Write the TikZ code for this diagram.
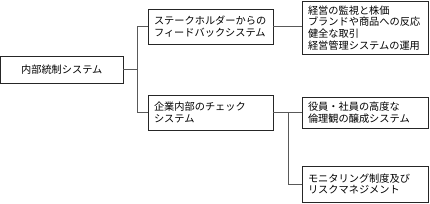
\documentclass[tikz,border=0pt]{standalone}
\usepackage{fontspec}
\setmainfont{Noto Sans CJK JP}
\begin{document}
\begin{tikzpicture}[x=1pt,y=-1pt,
  box/.style={draw=black!85, line width=0.9pt, rectangle, inner xsep=6pt, inner ysep=0pt,
    font=\fontsize{10.2}{11.7}\selectfont, align=left, anchor=center},
  conn/.style={draw=black!65, line width=0.9pt}]
\useasboundingbox (0,0) rectangle (430,203);
\node[box, minimum width=122.5pt, minimum height=27pt, align=center] (A) at (61.75,69.5) {内部統制システム};
\node[box, minimum width=125pt, minimum height=35pt, text width=113pt] (B) at (210.5,26.7) {ステークホルダーからの\\フィードバックシステム};
\node[box, minimum width=125pt, minimum height=35pt, text width=113pt] (C) at (210.5,112.5) {企業内部のチェック\\システム};
\node[box, minimum width=126pt, minimum height=53pt, text width=114pt] (D) at (365,27.7) {経営の監視と株価\\ブランドや商品への反応\\健全な取引\\経営管理システムの運用};
\node[box, minimum width=126pt, minimum height=31pt, text width=114pt] (E) at (365,112.5) {役員・社員の高度な\\倫理観の醸成システム};
\node[box, minimum width=126pt, minimum height=36pt, text width=114pt] (F) at (365,184) {モニタリング制度及び\\リスクマネジメント};
\coordinate (j1) at (137,69.5);
\coordinate (j2) at (288,112.5);
\draw[conn] (A.east) -- (j1);
\draw[conn] (j1) |- (B.west);
\draw[conn] (j1) |- (C.west);
\draw[conn] (B.east) -- (B.east -| D.west);
\draw[conn] (C.east) -- (C.east -| E.west);
\draw[conn] (j2) |- (F.west);
\end{tikzpicture}
\end{document}
